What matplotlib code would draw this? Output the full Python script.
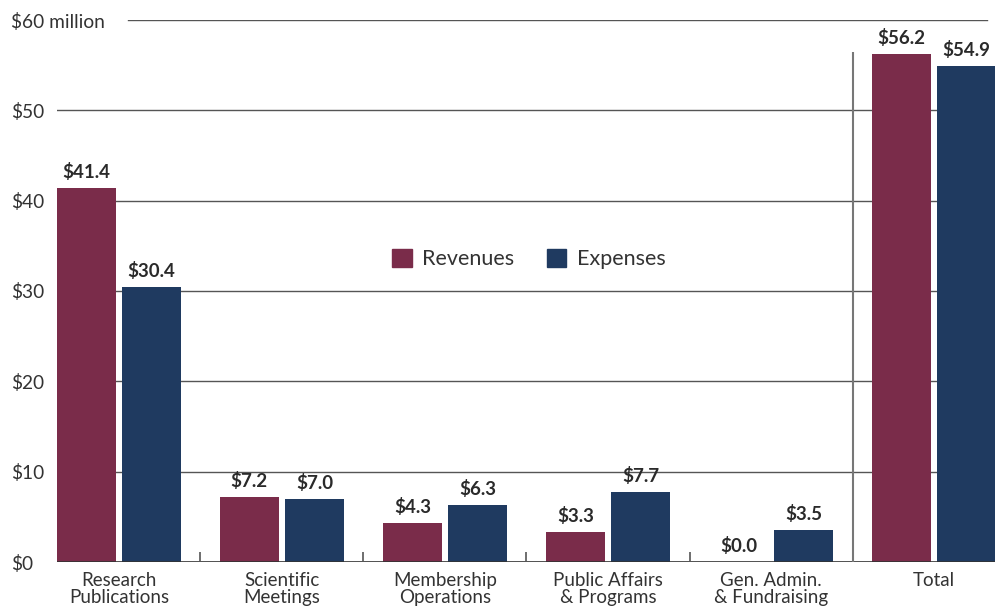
import matplotlib
matplotlib.use('Agg')
import matplotlib.pyplot as plt
from matplotlib.patches import Patch
import numpy as np

plt.rcParams.update({
    'font.family': ['Lato', 'DejaVu Sans'],
    'text.color': '#333333',
    'xtick.color': '#333333',
    'ytick.color': '#333333',
})

# Data ($ million)
categories = ['Research\nPublications', 'Scientific\nMeetings', 'Membership\nOperations',
              'Public Affairs\n& Programs', 'Gen. Admin.\n& Fundraising', 'Total']
revenues = [41.4, 7.2, 4.3, 3.3, 0.0, 56.2]
expenses = [30.4, 7.0, 6.3, 7.7, 3.5, 54.9]
ytick_values = [0, 10, 20, 30, 40, 50, 60]
ytick_labels = ['$0', '$10', '$20', '$30', '$40', '$50', '$60 million']

rev_color = '#7a2c4a'
exp_color = '#1f3a60'

W, H = 1003, 613
fig = plt.figure(figsize=(W / 100, H / 100), dpi=100)
ax = fig.add_axes([57 / W, (H - 562) / H, (995 - 57) / W, (562 - 20) / H])

x = np.arange(len(categories))
width = 0.36
off = 0.2

# grid lines
for v in ytick_values[1:-1]:
    ax.axhline(v, color='#555555', lw=1, zorder=1)
ax.axhline(60, xmin=(128 - 57) / (995 - 57), xmax=(987 - 57) / (995 - 57),
           color='#555555', lw=1, zorder=1)
ax.axhline(0, color='#333333', lw=1.2, zorder=3)

# separators
ax.vlines(np.arange(len(categories) - 2) + 0.5, 0, 1.1, color='#555555', lw=1.2, zorder=3)
ax.vlines(len(categories) - 1.5, 0, 56.5, color='#777777', lw=1.5, zorder=3)

b1 = ax.bar(x - off, revenues, width, color=rev_color, zorder=2)
b2 = ax.bar(x + off, expenses, width, color=exp_color, zorder=2)

for bars, vals in ((b1, revenues), (b2, expenses)):
    for bar, v in zip(bars, vals):
        ax.annotate(f'${v:.1f}', xy=(bar.get_x() + bar.get_width() / 2, v),
                    xytext=(0, 5), textcoords='offset points', ha='center', va='bottom',
                    fontsize=13.5, fontweight='bold', color='#2a2a2a')

ax.set_xlim(-0.38, 5.374)
ax.set_ylim(0, 60)
ax.set_xticks(x)
ax.set_xticklabels(categories, fontsize=13.5, linespacing=1.05)
ax.set_yticks(ytick_values)
ax.set_yticklabels(ytick_labels, fontsize=13.8, ha='left')
ax.tick_params(axis='x', length=0, pad=7)
ax.tick_params(axis='y', length=0, pad=33)
for s in ax.spines.values():
    s.set_visible(False)

handles = [Patch(color=rev_color, label='Revenues'), Patch(color=exp_color, label='Expenses')]
fig.legend(handles=handles, loc='center', bbox_to_anchor=(529 / W, (H - 259) / H), ncol=2,
           frameon=False, fontsize=15.5, handlelength=0.9, handleheight=0.9,
           handletextpad=0.5, columnspacing=1.5)

fig.savefig('out.png', dpi=100)
